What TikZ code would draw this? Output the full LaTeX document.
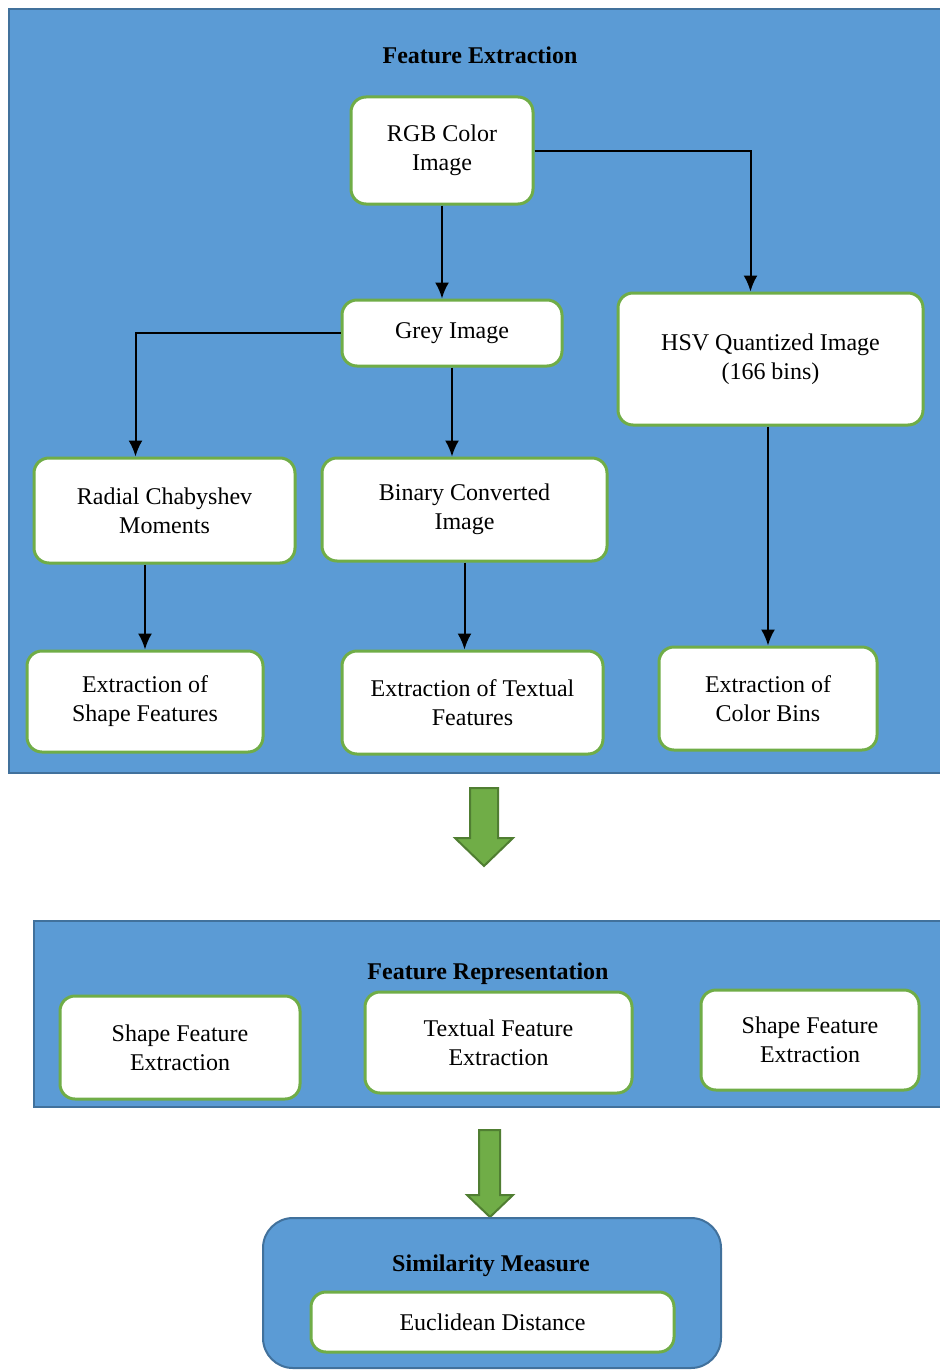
\documentclass[tikz,border=0pt]{standalone}
\usepackage{fontspec}
\setmainfont{Liberation Serif}
\usetikzlibrary{arrows.meta}
\usetikzlibrary{calc}
\definecolor{panelblue}{HTML}{5B9BD5}
\definecolor{paneledge}{HTML}{41719C}
\definecolor{boxgreen}{HTML}{70AD47}
\definecolor{arrowedge}{HTML}{507E32}
\tikzset{
	%	panel/.style={rectangle,draw,fill=blue!50},
	panel/.style={rectangle,draw=paneledge,fill=panelblue,line width=1pt},
	box/.style={rectangle,rounded corners=7.5pt,draw=boxgreen,fill=white,line width=1.5pt,align=center},
	title/.style={font=\fontsize{12pt}{14.5pt}\selectfont\bfseries},
	edge/.style={-{Latex[length=8pt,width=7pt]},line width=1pt},
	bigarrow/.style={fill=boxgreen,draw=arrowedge,line width=1pt}
}

\begin{document}
\begin{tikzpicture}[x=0.5pt,y=-0.5pt,font=\fontsize{12pt}{14.5pt}\selectfont]
	\clip (0,0) rectangle (940,1370);
	\fill[white] (0,0) rectangle (940,1370);
	
	% feature extraction
	\node[panel,minimum width=475.5pt,minimum height=382pt] (fepanel) at (484.5,391) {};
	\node[title] (fetitle) at (480,55) {Feature Extraction};
	\node[box,minimum width=91pt,minimum height=53.5pt] (rgb) at (442,150.5) {RGB Color\\Image};
	\node[box,minimum width=110pt,minimum height=33pt] (grey) at (452,333) {Grey Image};
	\node[box,minimum width=152.5pt,minimum height=66pt] (hsv) at (770.5,359) {HSV Quantized Image\\(166 bins)};
	\node[box,minimum width=130.5pt,minimum height=52.5pt] (radial) at (164.5,510.5) {Radial Chabyshev\\Moments};
	\node[box,minimum width=142.5pt,minimum height=51.5pt] (binary) at (464.5,509.5) {Binary Converted\\Image};
	\node[box,minimum width=118pt,minimum height=50.5pt] (shape) at (145,701.5) {Extraction of\\Shape Features};
	\node[box,minimum width=130.5pt,minimum height=51.5pt] (textual) at (472.5,702.5) {Extraction of Textual\\Features};
	\node[box,minimum width=109pt,minimum height=51.5pt] (colorbins) at (768,698.5) {Extraction of\\Color Bins};
	
	\draw[edge] (rgb.south) -- (rgb.south |- grey.north);
	\draw[edge] (rgb.east) -| ($(hsv.north)+(-20,0)$);
	\draw[edge] (grey.west) -| ($(radial.north)+(-29,0)$);
	\draw[edge] (grey.south) -- (grey.south |- binary.north);
	\draw[edge] (shape.north |- radial.south) -- (shape.north);
	\draw[edge] (binary.south) -- (binary.south |- textual.north);
	\draw[edge] (colorbins.north |- hsv.south) -- (colorbins.north);
	
	\draw[bigarrow] (470,788) -- (498,788) -- (498,838) -- (513,838) -- (484,866) -- (455,838) -- (470,838) -- cycle;
	
	% feature representation
	\node[panel,minimum width=463pt,minimum height=93pt] (frpanel) at (497,1014) {};
	\node[title] (frtitle) at (488,974) {Feature Representation};
	\node[box,minimum width=120pt,minimum height=51.5pt] (repshape) at (180,1047.5) {Shape Feature\\Extraction};
	\node[box,minimum width=133.5pt,minimum height=50.5pt] (reptextual) at (498.5,1042.5) {Textual Feature\\Extraction};
	\node[box,minimum width=109pt,minimum height=50pt] (repcolor) at (810,1040) {Shape Feature\\Extraction};
	
	\draw[bigarrow] (479,1130) -- (500,1130) -- (500,1195) -- (513,1195) -- (490,1217) -- (467,1195) -- (479,1195) -- cycle;
	
	% similarity measure
	\node[panel,rounded corners=15pt,minimum width=229pt,minimum height=75pt] (smpanel) at (492,1293) {};
	\node[title] (smtitle) at (491,1266) {Similarity Measure};
	\node[box,minimum width=181.5pt,minimum height=30pt] (euclid) at (492.5,1322) {Euclidean Distance};
\end{tikzpicture}
\end{document}
